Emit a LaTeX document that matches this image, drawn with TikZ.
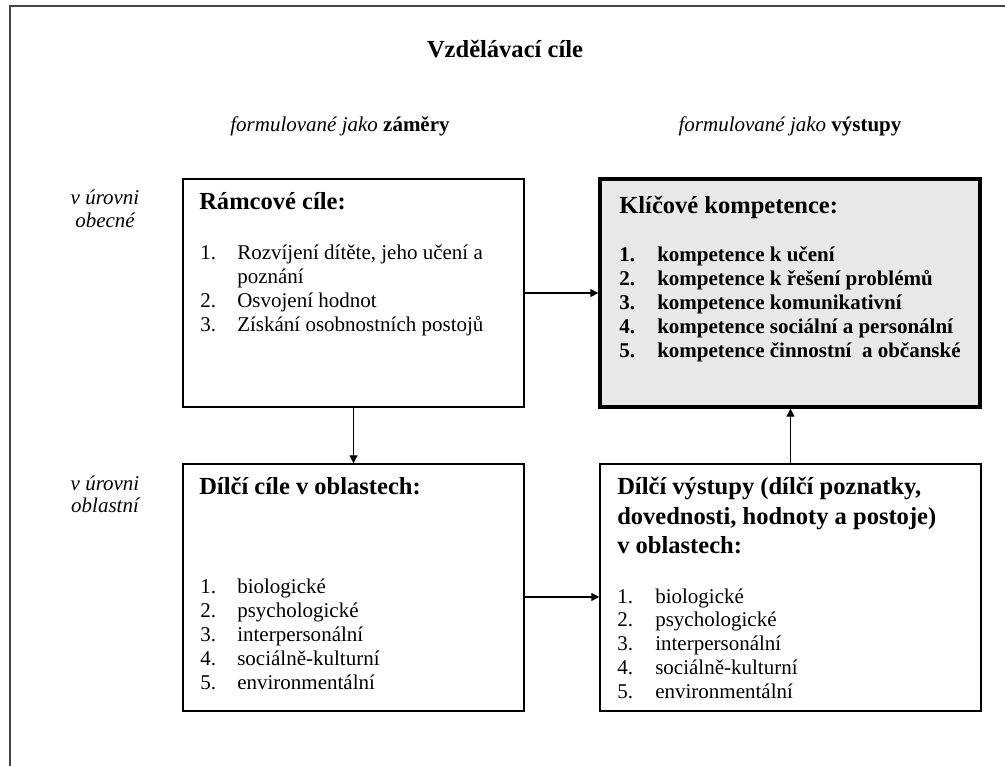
\documentclass[tikz,border=0pt]{standalone}
\usepackage{fontspec}
\setmainfont{Liberation Serif}
\usetikzlibrary{arrows.meta}
\newcommand\bodyfs{\fontsize{15.75}{18}\selectfont}
\newcommand\headfs{\fontsize{18.4}{21}\selectfont}
\definecolor{boxgray}{RGB}{232,232,232}
\definecolor{framegray}{RGB}{70,70,70}
\begin{document}
\begin{tikzpicture}[x=0.75pt,y=-0.75pt,
  box/.style={draw=black, line width=1.1pt, inner sep=0pt},
  keybox/.style={draw=black, line width=2.5pt, fill=boxgray, inner sep=0pt},
  txt/.style={anchor=base west, inner sep=0pt, font=\bodyfs},
  btxt/.style={anchor=base west, inner sep=0pt, font=\bodyfs\bfseries},
  head/.style={anchor=base west, inner sep=0pt, font=\headfs\bfseries},
  lab/.style={anchor=base, inner sep=0pt, font=\bodyfs},
  arr/.style={line width=1pt, -{Triangle[length=6pt,width=6pt]}},
  frame/.style={draw=framegray, line width=1.6pt}]
\useasboundingbox (0,0) rectangle (1005,765);

% outer frame (cut off at right and bottom)
\coordinate (fa) at (10,780);
\coordinate (fb) at (10,6);
\coordinate (fc) at (1020,6);
\draw[frame] (fa) -- (fb) -- (fc);

% title and column labels
\node[anchor=base, inner sep=0pt, font=\headfs\bfseries] (title) at (505,57) {Vzdělávací cíle};
\node[lab] (colL) at (340,131) {\textit{formulované jako} \textbf{záměry}};
\node[lab] (colR) at (790,131) {\textit{formulované jako} \textbf{výstupy}};

% row labels
\node[lab, font=\bodyfs\itshape] (rowA1) at (105,204) {v úrovni};
\node[lab, font=\bodyfs\itshape] (rowA2) at (105,227) {obecné};
\node[lab, font=\bodyfs\itshape] (rowB1) at (105,490) {v úrovni};
\node[lab, font=\bodyfs\itshape] (rowB2) at (105,512) {oblastní};

% boxes
\node[box, minimum width=255.75pt, minimum height=171pt] (b1) at (353.5,293) {};
\node[keybox, minimum width=285pt, minimum height=171pt] (b2) at (790,293) {};
\node[box, minimum width=255.75pt, minimum height=185.25pt] (b3) at (353.5,587.5) {};
\node[box, minimum width=285.75pt, minimum height=185.25pt] (b4) at (790.5,587.5) {};

% box 1
\node[head] (h1) at (199,209) {Rámcové cíle:};
\node[txt] (n11) at (200,259) {1.};
\node[txt] (t11) at (237,259) {Rozvíjení dítěte, jeho učení a};
\node[txt] (t11b) at (237,283) {poznání};
\node[txt] (n12) at (200,307) {2.};
\node[txt] (t12) at (237,307) {Osvojení hodnot};
\node[txt] (n13) at (200,331) {3.};
\node[txt] (t13) at (237,331) {Získání osobnostních postojů};

% box 2
\node[head] (h2) at (619,213) {Klíčové kompetence:};
\foreach \s [count=\k] in {kompetence k učení, kompetence k řešení problémů, kompetence komunikativní, kompetence sociální a personální, kompetence činnostní\ \ a občanské}{
  \node[btxt] (n2\k) at (619,{261+24.2*(\k-1)}) {\k.};
  \node[btxt] (t2\k) at (657,{261+24.2*(\k-1)}) {\s};
}

% box 3
\node[head] (h3) at (199,494) {Dílčí cíle v oblastech:};
\foreach \s [count=\k] in {biologické, psychologické, interpersonální, sociálně-kulturní, environmentální}{
  \node[txt] (n3\k) at (200,{593+24*(\k-1)}) {\k.};
  \node[txt] (t3\k) at (237,{593+24*(\k-1)}) {\s};
}

% box 4
\node[head] (h4a) at (617,494) {Dílčí výstupy (dílčí poznatky,};
\node[head] (h4b) at (617,524) {dovednosti, hodnoty a postoje)};
\node[head] (h4c) at (617,553) {v oblastech:};
\foreach \s [count=\k] in {biologické, psychologické, interpersonální, sociálně-kulturní, environmentální}{
  \node[txt] (n4\k) at (617,{603+23.8*(\k-1)}) {\k.};
  \node[txt] (t4\k) at (655,{603+23.8*(\k-1)}) {\s};
}

% connectors
\draw[arr] (b1.east) -- (b2.west);
\draw[arr] (b1.south) -- (b3.north);
\draw[arr] ([yshift=-7.1pt]b3.east) -- ([yshift=-7.1pt]b4.west);
\draw[arr] (b4.north) -- (b4.north |- b2.south);
\end{tikzpicture}
\end{document}
